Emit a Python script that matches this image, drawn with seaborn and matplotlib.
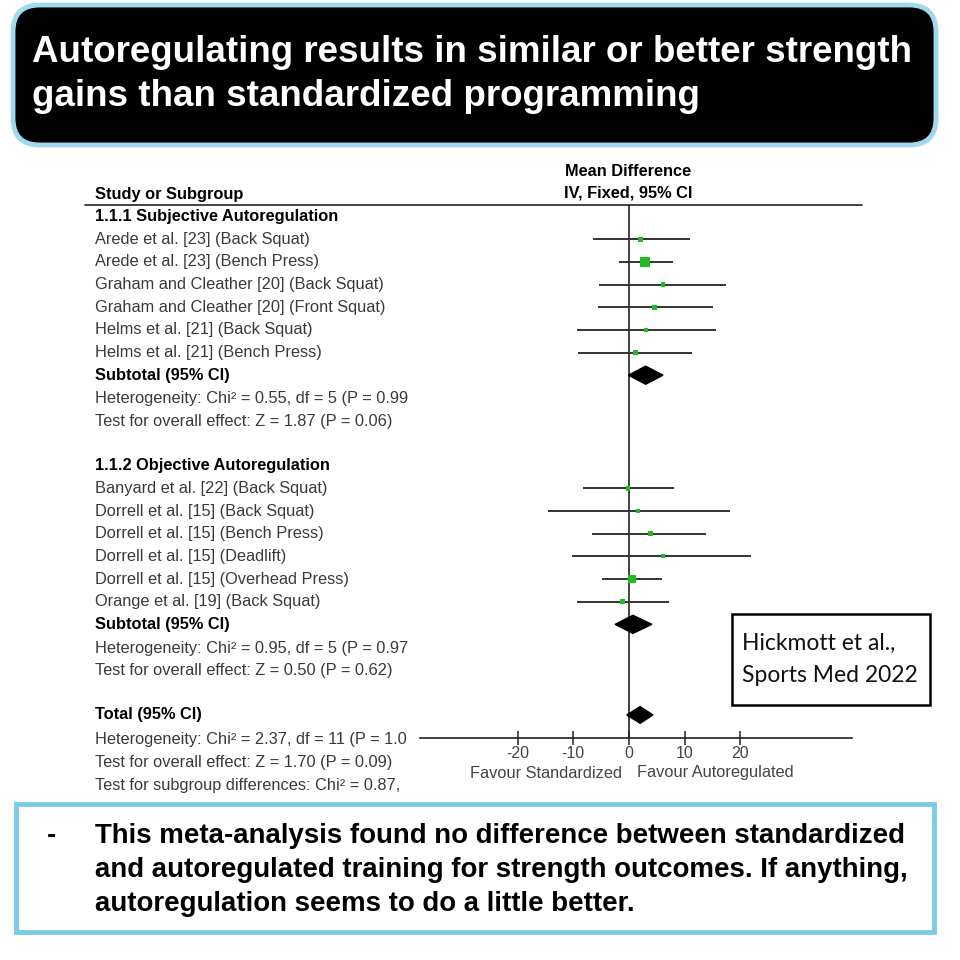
import matplotlib
matplotlib.use("Agg")
import matplotlib.pyplot as plt
import seaborn as sns
import pandas as pd
from matplotlib import transforms, font_manager
from matplotlib.patches import FancyBboxPatch, Rectangle
from matplotlib.lines import Line2D


# --- Data ---
subj_names = [
    "Arede et al. [23] (Back Squat)",
    "Arede et al. [23] (Bench Press)",
    "Graham and Cleather [20] (Back Squat)",
    "Graham and Cleather [20] (Front Squat)",
    "Helms et al. [21] (Back Squat)",
    "Helms et al. [21] (Bench Press)",
]
subj_md = [2.1, 2.9, 6.1, 4.6, 3.0, 1.2]
subj_lo = [-6.4, -1.8, -5.4, -5.5, -9.3, -9.1]
subj_hi = [10.9, 7.9, 17.5, 15.0, 15.7, 11.4]
subj_weight = [3.8, 42.0, 3.8, 3.8, 2.5, 3.8]
subj_total = [3.0, -0.1, 6.1]   # mean, lower, upper

obj_names = [
    "Banyard et al. [22] (Back Squat)",
    "Dorrell et al. [15] (Back Squat)",
    "Dorrell et al. [15] (Bench Press)",
    "Dorrell et al. [15] (Deadlift)",
    "Dorrell et al. [15] (Overhead Press)",
    "Orange et al. [19] (Back Squat)",
]
obj_md = [-0.2, 1.6, 3.9, 6.1, 0.5, -1.2]
obj_lo = [-8.2, -14.5, -6.6, -10.2, -4.8, -9.3]
obj_hi = [8.0, 18.2, 13.9, 21.9, 5.9, 7.1]
obj_weight = [3.8, 2.0, 3.8, 2.0, 25.0, 3.8]
obj_total = [0.7, -2.5, 4.1]

overall_total = [2.0, -0.4, 4.3]

subj_stats = ["Heterogeneity: Chi\u00b2 = 0.55, df = 5 (P = 0.99",
              "Test for overall effect: Z = 1.87 (P = 0.06)"]
obj_stats = ["Heterogeneity: Chi\u00b2 = 0.95, df = 5 (P = 0.97",
             "Test for overall effect: Z = 0.50 (P = 0.62)"]
total_stats = ["Heterogeneity: Chi\u00b2 = 2.37, df = 11 (P = 1.0",
               "Test for overall effect: Z = 1.70 (P = 0.09)",
               "Test for subgroup differences: Chi\u00b2 = 0.87,"]

x_ticks = [-20, -10, 0, 10, 20]

title_lines = ["Autoregulating results in similar or better strength",
               "gains than standardized programming"]
note_lines = ["This meta-analysis found no difference between standardized",
              "and autoregulated training for strength outcomes. If anything,",
              "autoregulation seems to do a little better."]
source_lines = ["Hickmott et al.,", "Sports Med 2022"]

# row layout (row index from the table header)
subj_rows = list(range(2, 8))
obj_rows = list(range(13, 19))

df = pd.DataFrame({
    "study": subj_names + obj_names,
    "md": subj_md + obj_md,
    "lo": subj_lo + obj_lo,
    "hi": subj_hi + obj_hi,
    "weight": subj_weight + obj_weight,
    "row": subj_rows + obj_rows,
})


# --- Styling ---
sns.set_theme(style="white")
plt.rcParams["font.family"] = ["Liberation Sans", "DejaVu Sans"]


def has_font(name):
    try:
        font_manager.findfont(font_manager.FontProperties(family=name),
                              fallback_to_default=False)
        return True
    except ValueError:
        return False


box_font = "Lato" if has_font("Lato") else "Liberation Sans"

fig = plt.figure(figsize=(9.6, 9.6), dpi=100)
fig.patch.set_facecolor("white")
renderer = fig.canvas.get_renderer()


def fx(px):
    return px / 960


def fy(py):
    return 1 - py / 960


def fit(t, width_px):
    bb = t.get_window_extent(renderer)
    t.set_fontsize(t.get_fontsize() * width_px / bb.width)
    return t.get_fontsize()


# --- Forest axes ---
row_top, row_step = 194, 22.65
ax_top, ax_bot = 205, 738
ax = fig.add_axes([fx(420), fy(ax_bot), fx(852) - fx(420), (ax_bot - ax_top) / 960])
ax.set_xlim((420 - 629) / 5.57, (852 - 629) / 5.57)
ax.set_ylim((ax_bot - row_top) / row_step, (ax_top - row_top) / row_step)
ax.patch.set_alpha(0)

ax.axvline(0, color="#222222", lw=1.2, zorder=1)
ax.hlines(df["row"], df["lo"], df["hi"], color="#333333", lw=1.4, zorder=2)
sns.scatterplot(
    data=df, x="md", y="row", size="weight", sizes=(9, 55),
    marker="s", color="#22bb22", edgecolor="none", legend=False, ax=ax, zorder=3
)


def diamond(vals, row, h=0.4):
    mid, lo, hi = vals
    ax.fill([lo, mid, hi, mid], [row, row - h, row, row + h], color="black", zorder=4)


diamond(subj_total, 8)
diamond(obj_total, 19)
diamond(overall_total, 23, h=0.37)

for side in ["top", "right", "left"]:
    ax.spines[side].set_visible(False)
ax.spines["bottom"].set_color("#222222")
ax.spines["bottom"].set_linewidth(1.2)
ax.set_yticks([])
ax.set_xticks(x_ticks)
ax.set_xticklabels([str(v) for v in x_ticks])
ax.tick_params(axis="x", direction="inout", length=10, width=1.1, pad=1,
               labelsize=11.5, labelcolor="#444444", color="#222222", bottom=True)
ax.set_xlabel("")
ax.set_ylabel("")


# --- Table text ---
fs = 11.8
row_tf = transforms.blended_transform_factory(fig.transFigure, ax.transData)
tx = fx(95)
txt_kw = dict(transform=row_tf, va="center", ha="left", fontsize=fs, color="#3a3a3a")
bold_kw = dict(transform=row_tf, va="center", ha="left", fontsize=fs,
               color="black", fontweight="bold")

fig.text(fx(628), fy(171), "Mean Difference", ha="center", va="center",
         fontsize=fs, fontweight="bold", color="black")
fig.text(fx(628), fy(193), "IV, Fixed, 95% CI", ha="center", va="center",
         fontsize=fs, fontweight="bold", color="black")
fig.text(tx, 0, "Study or Subgroup", **bold_kw)
fig.text(tx, 1, "1.1.1 Subjective Autoregulation", **bold_kw)
for name, r in zip(subj_names, subj_rows):
    fig.text(tx, r, name, **txt_kw)
fig.text(tx, 8, "Subtotal (95% CI)", **bold_kw)
fig.text(tx, 9.05, subj_stats[0], **txt_kw)
fig.text(tx, 10.05, subj_stats[1], **txt_kw)

fig.text(tx, 12, "1.1.2 Objective Autoregulation", **bold_kw)
for name, r in zip(obj_names, obj_rows):
    fig.text(tx, r, name, **txt_kw)
fig.text(tx, 19, "Subtotal (95% CI)", **bold_kw)
fig.text(tx, 20.05, obj_stats[0], **txt_kw)
fig.text(tx, 21.05, obj_stats[1], **txt_kw)

fig.text(tx, 23, "Total (95% CI)", **bold_kw)
for i, s in enumerate(total_stats):
    fig.text(tx, 24.1 + i, s, **txt_kw)

fig.add_artist(Line2D([fx(85), fx(862)], [fy(205), fy(205)], color="#222222", lw=1.2))

fig.text(fx(622), fy(773), "Favour Standardized", ha="right", va="center",
         fontsize=fs, color="#444444")
fig.text(fx(637), fy(773), "Favour Autoregulated", ha="left", va="center",
         fontsize=fs, color="#444444")


# --- Source box ---
fig.add_artist(Rectangle((fx(732), fy(705)), fx(930) - fx(732), (705 - 614) / 960,
                         transform=fig.transFigure, facecolor="white",
                         edgecolor="black", lw=1.8, zorder=5))
s0 = fig.text(fx(742), fy(643), source_lines[0], ha="left", va="center",
              family=box_font, fontsize=13, color="#111111", zorder=6)
s1 = fig.text(fx(742), fy(675), source_lines[1], ha="left", va="center",
              family=box_font, fontsize=13, color="#111111", zorder=6)
size = min(fit(s0, 170), fit(s1, 175))
s0.set_fontsize(size)
s1.set_fontsize(size)


# --- Title box ---
fig.add_artist(FancyBboxPatch((fx(13), fy(145)), fx(936) - fx(13), (145 - 5) / 960,
                              boxstyle="round,pad=0,rounding_size=0.028",
                              transform=fig.transFigure, facecolor="black",
                              edgecolor="#9fd8ef", lw=3.5, zorder=5))
t0 = fig.text(fx(32), fy(52), title_lines[0], ha="left", va="center", color="white",
              fontweight="bold", fontsize=24, zorder=6)
size = fit(t0, 883)
fig.text(fx(32), fy(97), title_lines[1], ha="left", va="center", color="white",
         fontweight="bold", fontsize=size, zorder=6)


# --- Note box ---
fig.add_artist(Rectangle((fx(16), fy(932)), fx(934) - fx(16), (932 - 804) / 960,
                         transform=fig.transFigure, facecolor="white",
                         edgecolor="#7ccbe6", lw=3.5, zorder=5))
n0 = fig.text(fx(95), fy(836), note_lines[0], ha="left", va="center", color="black",
              fontweight="bold", fontsize=18, zorder=6)
size = fit(n0, 810)
fig.text(fx(47), fy(836), "-", ha="left", va="center", color="black",
         fontweight="bold", fontsize=size, zorder=6)
for i, line in enumerate(note_lines[1:], start=1):
    fig.text(fx(95), fy(836 + 34 * i), line, ha="left", va="center", color="black",
             fontweight="bold", fontsize=size, zorder=6)


# --- Render ---
fig.savefig("out.png", dpi=100, facecolor="white")
